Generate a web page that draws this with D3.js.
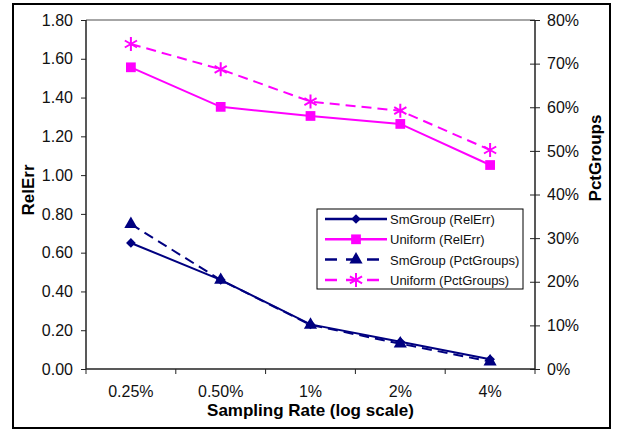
<!DOCTYPE html>
<html>
<head>
<meta charset="utf-8">
<script src="https://cdn.jsdelivr.net/npm/d3@7"></script>
<style>
  body { margin: 0; background: #fff; }
  text { font-family: "Liberation Sans", Arial, sans-serif; }
</style>
</head>
<body>
<div id="chart"></div>
<script>
// Données
const rates = ["0.25%", "0.50%", "1%", "2%", "4%"];
const smGroupRelErr = [0.65, 0.46, 0.23, 0.14, 0.05];
const uniformRelErr = [1.556, 1.352, 1.305, 1.264, 1.052];
const smGroupPct = [0.332, 0.204, 0.101, 0.058, 0.017];
const uniformPct = [0.745, 0.687, 0.613, 0.592, 0.502];
const leftTicks = [0, 0.2, 0.4, 0.6, 0.8, 1.0, 1.2, 1.4, 1.6, 1.8];
const rightTicks = [0, 0.1, 0.2, 0.3, 0.4, 0.5, 0.6, 0.7, 0.8];

const width = 621, height = 430;
const margin = { top: 20, right: 86, bottom: 61, left: 86 };
const navy = "#000080", magenta = "#ff00ff";

const svg = d3.select("#chart").append("svg")
  .attr("width", width)
  .attr("height", height);

// Cadre extérieur
svg.append("rect")
  .attr("x", 13).attr("y", 4)
  .attr("width", 597).attr("height", 424)
  .attr("fill", "#fff")
  .attr("stroke", "#000")
  .attr("stroke-width", 2);

// Échelles
const x = d3.scaleBand()
  .domain(rates)
  .range([margin.left, width - margin.right]);

const yL = d3.scaleLinear().domain([0, 1.8]).range([height - margin.bottom, margin.top]);
const yR = d3.scaleLinear().domain([0, 0.8]).range([height - margin.bottom, margin.top]);

const x0 = margin.left, x1 = width - margin.right;
const yB = height - margin.bottom, yT = margin.top;

// Bordure haute grise
svg.append("line")
  .attr("x1", x0).attr("x2", x1)
  .attr("y1", yT).attr("y2", yT)
  .attr("stroke", "#888").attr("stroke-width", 1.5);

// Axes
const axL = svg.append("g")
  .attr("transform", `translate(${x0},0)`)
  .call(d3.axisLeft(yL).tickValues(leftTicks).tickFormat(d3.format(".2f")).tickSize(5).tickPadding(8));

const axR = svg.append("g")
  .attr("transform", `translate(${x1},0)`)
  .call(d3.axisRight(yR).tickValues(rightTicks).tickFormat(d3.format(".0%")).tickSize(5).tickPadding(7));
axR.selectAll(".tick line").attr("x1", -5);

const axB = svg.append("g")
  .attr("transform", `translate(0,${yB})`)
  .call(d3.axisBottom(x).tickSize(0).tickPadding(17));

// Graduations entre catégories
const bounds = d3.range(rates.length + 1).map(i => x0 + i * x.step());
axB.selectAll(".sep").data(bounds).join("line")
  .attr("x1", d => d).attr("x2", d => d)
  .attr("y1", 0).attr("y2", 5)
  .attr("stroke", "#222");

[axL, axR, axB].forEach(a => {
  a.select(".domain").attr("stroke", "#222").attr("stroke-width", 1.5);
  a.selectAll(".tick line").attr("stroke", "#222");
  a.selectAll("text").attr("font-size", "16px").attr("fill", "#111")
    .style("font-family", "Liberation Sans, Arial, sans-serif");
});
axB.select(".domain").attr("d", `M${x0},0H${x1}`);
axL.select(".domain").attr("d", `M0,${yB}V${yT}`);
axR.select(".domain").attr("d", `M0,${yB}V${yT}`);

// Titres des axes
svg.append("text")
  .attr("x", (x0 + x1) / 2) .attr("y", 416)
  .attr("text-anchor", "middle")
  .attr("font-size", "17px").attr("font-weight", "bold")
  .text("Sampling Rate (log scale)");

svg.append("text")
  .attr("transform", "translate(34,190) rotate(-90)")
  .attr("text-anchor", "middle")
  .attr("font-size", "17px").attr("font-weight", "bold")
  .text("RelErr");

svg.append("text")
  .attr("transform", "translate(601,158) rotate(-90)")
  .attr("text-anchor", "middle")
  .attr("font-size", "17px").attr("font-weight", "bold")
  .text("PctGroups");

// Symboles
const markers = {
  diamond: d3.symbol().type(d3.symbolDiamond2).size(60),
  square: d3.symbol().type(d3.symbolSquare2).size(121),
  triangle: d3.symbol().type(d3.symbolTriangle).size(75)
};

function drawMarker(g, kind, color) {
  if (kind === "asterisk") {
    const r = 7;
    const p = `M0,${-r}V${r}M${-r*0.87},${-r*0.5}L${r*0.87},${r*0.5}M${-r*0.87},${r*0.5}L${r*0.87},${-r*0.5}`;
    g.append("path").attr("d", p).attr("stroke", color).attr("stroke-width", 2).attr("fill", "none");
  } else {
    g.append("path").attr("d", markers[kind]()).attr("fill", color);
  }
}

const series = [
  { name: "SmGroup (RelErr)", values: smGroupRelErr, y: yL, color: navy, dash: null, marker: "diamond" },
  { name: "Uniform (RelErr)", values: uniformRelErr, y: yL, color: magenta, dash: null, marker: "square" },
  { name: "SmGroup (PctGroups)", values: smGroupPct, y: yR, color: navy, dash: "10,6", marker: "triangle" },
  { name: "Uniform (PctGroups)", values: uniformPct, y: yR, color: magenta, dash: "10,6", marker: "asterisk" }
];

const cx = d => x(d) + x.bandwidth() / 2;

series.forEach(s => {
  const line = d3.line()
    .x((d, i) => cx(rates[i]))
    .y(d => s.y(d));
  svg.append("path")
    .datum(s.values)
    .attr("fill", "none")
    .attr("stroke", s.color)
    .attr("stroke-width", 2)
    .attr("stroke-dasharray", s.dash)
    .attr("d", line);
  s.values.forEach((v, i) => {
    const g = svg.append("g").attr("transform", `translate(${cx(rates[i])},${s.y(v)})`);
    drawMarker(g, s.marker, s.color);
  });
});

// Légende
const leg = svg.append("g").attr("transform", "translate(317,209)");
leg.append("rect")
  .attr("width", 206).attr("height", 80)
  .attr("fill", "#fff").attr("stroke", "#000").attr("stroke-width", 1);

series.forEach((s, i) => {
  const yy = 10 + i * 20.3;
  leg.append("line")
    .attr("x1", 8).attr("x2", 70)
    .attr("y1", yy).attr("y2", yy)
    .attr("stroke", s.color).attr("stroke-width", 2.5)
    .attr("stroke-dasharray", s.dash ? "12,9" : null);
  const g = leg.append("g").attr("transform", `translate(39,${yy})`);
  drawMarker(g, s.marker, s.color);
  leg.append("text")
    .attr("x", 73).attr("y", yy + 5)
    .attr("font-size", "13px").attr("fill", "#111")
    .text(s.name);
});
</script>
</body>
</html>
